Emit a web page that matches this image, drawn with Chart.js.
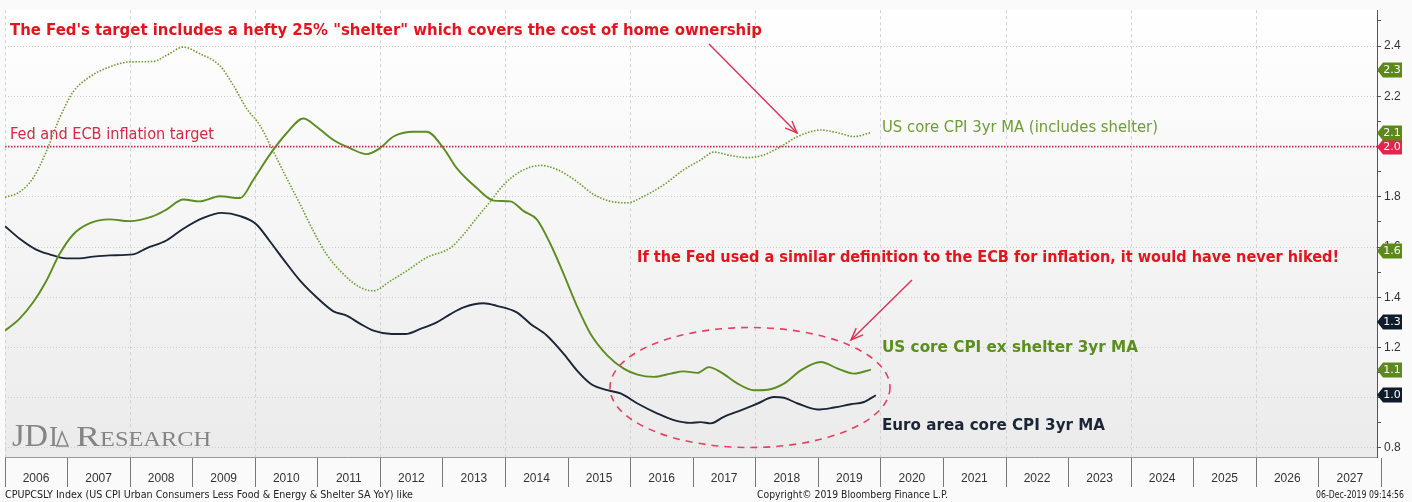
<!DOCTYPE html>
<html><head><meta charset="utf-8">
<script src="https://cdn.jsdelivr.net/npm/chart.js@4.4.0/dist/chart.umd.min.js"></script>
<style>html,body{margin:0;padding:0;background:#fafafa;}canvas{display:block;}</style>
</head><body>
<canvas id="c" width="1412" height="502"></canvas>
<script>
// ---------- DATA ----------
const euroYears = [2006.0,2006.23,2006.49,2006.71,2006.98,2007.19,2007.41,2007.67,2008.05,2008.26,2008.58,2008.85,2009.17,2009.46,2009.76,2010.02,2010.23,2010.45,2010.72,2011.01,2011.25,2011.46,2011.68,2011.89,2012.18,2012.40,2012.64,2012.90,2013.12,2013.33,2013.65,2013.86,2014.18,2014.40,2014.66,2014.93,2015.14,2015.36,2015.63,2015.84,2016.11,2016.43,2016.69,2016.96,2017.12,2017.28,2017.49,2017.76,2018.03,2018.29,2018.45,2018.67,2018.99,2019.25,2019.52,2019.73,2019.92];
const euroValues = [1.683,1.634,1.591,1.571,1.555,1.555,1.562,1.567,1.571,1.595,1.626,1.673,1.716,1.736,1.723,1.690,1.624,1.551,1.465,1.393,1.344,1.327,1.294,1.267,1.254,1.254,1.274,1.300,1.333,1.360,1.376,1.366,1.340,1.294,1.248,1.175,1.109,1.056,1.030,1.017,0.977,0.937,0.911,0.900,0.903,0.898,0.924,0.950,0.977,1.003,1.000,0.977,0.953,0.961,0.974,0.983,1.010];

const exShelterYears = [2006.0,2006.23,2006.45,2006.66,2006.87,2007.09,2007.35,2007.67,2007.99,2008.37,2008.58,2008.85,2009.11,2009.43,2009.76,2009.97,2010.23,2010.50,2010.77,2010.98,2011.25,2011.52,2011.78,2011.99,2012.21,2012.53,2012.74,2013.01,2013.22,2013.54,2013.81,2014.08,2014.29,2014.50,2014.72,2014.93,2015.14,2015.36,2015.63,2015.89,2016.11,2016.37,2016.64,2016.85,2017.07,2017.25,2017.44,2017.71,2017.97,2018.19,2018.45,2018.72,2019.04,2019.31,2019.57,2019.84];
const exShelterValues = [1.267,1.314,1.380,1.465,1.571,1.650,1.694,1.710,1.703,1.723,1.749,1.789,1.782,1.802,1.795,1.868,1.967,2.053,2.112,2.079,2.026,1.993,1.970,1.993,2.040,2.059,2.059,1.993,1.914,1.835,1.785,1.782,1.743,1.710,1.611,1.492,1.366,1.254,1.168,1.116,1.092,1.083,1.096,1.105,1.099,1.122,1.102,1.056,1.030,1.032,1.056,1.109,1.142,1.116,1.096,1.112];

const coreYears = [2006.0,2006.23,2006.45,2006.66,2006.87,2007.09,2007.35,2007.67,2007.99,2008.37,2008.58,2008.85,2009.11,2009.43,2009.65,2009.86,2010.07,2010.29,2010.50,2010.72,2010.93,2011.14,2011.41,2011.68,2011.89,2012.16,2012.42,2012.74,2013.12,2013.33,2013.54,2013.76,2013.97,2014.24,2014.56,2014.83,2015.14,2015.41,2015.68,2015.95,2016.21,2016.53,2016.85,2017.12,2017.33,2017.60,2017.87,2018.13,2018.40,2018.67,2019.04,2019.31,2019.57,2019.83];
const coreValues = [1.798,1.819,1.875,1.980,2.112,2.218,2.277,2.317,2.337,2.339,2.363,2.396,2.370,2.323,2.244,2.152,2.086,1.980,1.875,1.769,1.663,1.571,1.492,1.439,1.426,1.465,1.505,1.558,1.597,1.650,1.716,1.782,1.848,1.901,1.925,1.908,1.861,1.809,1.782,1.776,1.802,1.848,1.908,1.947,1.978,1.964,1.956,1.967,2.000,2.040,2.066,2.055,2.040,2.055];

const targetValue = 2.0;
const extraTagValues = [2.305, 1.584, 1.30];
const extraTagColors = ['green', 'green', 'navy'];

const yearTicks = [2006,2007,2008,2009,2010,2011,2012,2013,2014,2015,2016,2017,2018,2019,2020,2021,2022,2023,2024,2025,2026,2027,2028];
const yTickValues = [0.8,0.9,1.0,1.1,1.2,1.3,1.4,1.5,1.6,1.7,1.8,1.9,2.0,2.1,2.2,2.3,2.4,2.5];

// ---------- STYLE ----------
const COL = {green:'#5b8d1f', greenDot:'#6a9a2c', greenText:'#6f9d35', navy:'#1b2536', navyTag:'#0f1c2c',
  red:'#e5141c', redSoft:'#d9283f', target:'#d42a4f', ellipse:'#e6405f', grid:'#cfcfcf', greenTag:'#5b8a1a', redTag:'#e8244a'};

const pts = (xs, ys) => xs.map((x, i) => ({x, y: ys[i]}));
const isMajorY = v => Math.round(v * 10) % 2 === 0;

function fitText(ctx, text, x, y, w, font, color) {
  ctx.save();
  ctx.font = font;
  const m = ctx.measureText(text).width;
  ctx.translate(x, y);
  ctx.scale(w / m, 1);
  ctx.fillStyle = color;
  ctx.textBaseline = 'alphabetic';
  ctx.textAlign = 'left';
  ctx.fillText(text, 0, 0);
  ctx.restore();
}
function arrow(ctx, x1, y1, x2, y2, color) {
  ctx.save();
  ctx.strokeStyle = color; ctx.lineWidth = 1.4;
  ctx.beginPath(); ctx.moveTo(x1, y1); ctx.lineTo(x2, y2); ctx.stroke();
  const a = Math.atan2(y2 - y1, x2 - x1), L = 13, W = 0.38;
  ctx.beginPath();
  ctx.moveTo(x2 - L * Math.cos(a - W), y2 - L * Math.sin(a - W));
  ctx.lineTo(x2, y2);
  ctx.lineTo(x2 - L * Math.cos(a + W), y2 - L * Math.sin(a + W));
  ctx.stroke();
  ctx.restore();
}

const bgPlugin = {
  id: 'bg',
  beforeDraw(chart) {
    const {ctx, chartArea: a} = chart;
    ctx.save();
    ctx.fillStyle = '#fafafa'; ctx.fillRect(0, 0, chart.width, chart.height);
    const g = ctx.createLinearGradient(0, a.top, 0, a.bottom);
    g.addColorStop(0, '#ffffff'); g.addColorStop(1, '#ebebeb');
    ctx.fillStyle = g; ctx.fillRect(a.left, a.top, a.right - a.left, a.bottom - a.top);
    ctx.restore();
  },
  beforeDatasetsDraw(chart) {
    const ctx = chart.ctx;
    ctx.save();
    const grey = '#858585';
    fitText(ctx, 'JD', 12, 446, 36, '32px "Liberation Serif"', grey);
    fitText(ctx, 'I', 49, 446, 9, '30px "Liberation Serif"', grey);
    ctx.strokeStyle = grey; ctx.lineWidth = 1.5;
    ctx.beginPath(); ctx.moveTo(57, 446); ctx.lineTo(62, 432); ctx.lineTo(68, 446); ctx.closePath(); ctx.stroke();
    fitText(ctx, 'R', 76, 446, 24, '30px "Liberation Serif"', grey);
    fitText(ctx, 'ESEARCH', 100, 446, 111, '22px "Liberation Serif"', grey);
    ctx.restore();
  },
  afterDatasetsDraw(chart) {
    const ctx = chart.ctx;
    fitText(ctx, 'The Fed\'s target includes a hefty 25% "shelter" which covers the cost of home ownership', 10, 35, 752, 'bold 15px "DejaVu Sans"', COL.red);
    fitText(ctx, 'Fed and ECB inflation target', 10, 139, 204, '15px "DejaVu Sans"', COL.redSoft);
    fitText(ctx, 'US core CPI 3yr MA (includes shelter)', 882, 132, 276, '15px "DejaVu Sans"', COL.greenText);
    fitText(ctx, 'If the Fed used a similar definition to the ECB for inflation, it would have never hiked!', 637, 262, 702, 'bold 15px "DejaVu Sans"', COL.red);
    fitText(ctx, 'US core CPI ex shelter 3yr MA', 882, 352, 256, 'bold 15px "DejaVu Sans"', COL.green);
    fitText(ctx, 'Euro area core CPI 3yr MA', 882, 430, 223, 'bold 15px "DejaVu Sans"', COL.navy);
    arrow(ctx, 709, 44, 797, 133, '#e0304f');
    arrow(ctx, 912, 280, 851, 340, '#e0304f');
    ctx.save();
    ctx.strokeStyle = COL.ellipse; ctx.lineWidth = 1.6; ctx.setLineDash([7, 6]);
    ctx.beginPath(); ctx.ellipse(750, 387.5, 140, 60, 0, 0, Math.PI * 2); ctx.stroke();
    ctx.restore();
  },
  afterDraw(chart) {
    const ctx = chart.ctx, y = chart.scales.y, x0 = chart.chartArea.right;
    const colorOf = {green: COL.greenTag, navy: COL.navyTag, red: COL.redTag};
    const tags = [];
    extraTagValues.forEach((v, i) => tags.push({v, c: colorOf[extraTagColors[i]]}));
    tags.push({v: targetValue, c: COL.redTag});
    tags.push({v: coreValues[coreValues.length - 1], c: COL.greenTag});
    tags.push({v: exShelterValues[exShelterValues.length - 1], c: COL.greenTag});
    tags.push({v: euroValues[euroValues.length - 1], c: COL.navyTag});
    ctx.save();
    tags.forEach(t => {
      const py = Math.round(y.getPixelForValue(t.v));
      ctx.fillStyle = t.c;
      ctx.beginPath();
      ctx.moveTo(x0, py); ctx.lineTo(x0 + 6, py - 7.5); ctx.lineTo(x0 + 25, py - 7.5);
      ctx.lineTo(x0 + 25, py + 7.5); ctx.lineTo(x0 + 6, py + 7.5); ctx.closePath(); ctx.fill();
      ctx.fillStyle = '#ffffff'; ctx.font = '11px "DejaVu Sans"';
      ctx.textAlign = 'center'; ctx.textBaseline = 'middle';
      ctx.fillText(t.v.toFixed(1), x0 + 15, py + 0.5);
    });
    ctx.restore();
    fitText(ctx, 'CPUPCSLY Index (US CPI Urban Consumers Less Food & Energy & Shelter SA YoY) like', 5, 498, 408, '10px "DejaVu Sans"', '#222');
    fitText(ctx, 'Copyright\u00A9 2019 Bloomberg Finance L.P.', 757, 498, 191, '10px "DejaVu Sans"', '#222');
    fitText(ctx, '06-Dec-2019 09:14:56', 1316, 498, 88, '10.5px "DejaVu Sans"', '#222');
  }
};

new Chart(document.getElementById('c'), {
  type: 'line',
  data: {
    datasets: [
      {label: 'Fed and ECB inflation target', data: [{x: yearTicks[0], y: targetValue}, {x: yearTicks[yearTicks.length - 1], y: targetValue}],
        borderColor: COL.target, borderWidth: 1.6, borderDash: [1.5, 1.5], pointRadius: 0, tension: 0},
      {label: 'US core CPI 3yr MA (includes shelter)', data: pts(coreYears, coreValues),
        borderColor: COL.greenDot, borderWidth: 1.6, borderDash: [1.5, 1.6], pointRadius: 0, cubicInterpolationMode: 'monotone'},
      {label: 'US core CPI ex shelter 3yr MA', data: pts(exShelterYears, exShelterValues),
        borderColor: COL.green, borderWidth: 1.9, pointRadius: 0, cubicInterpolationMode: 'monotone'},
      {label: 'Euro area core CPI 3yr MA', data: pts(euroYears, euroValues),
        borderColor: COL.navy, borderWidth: 1.9, pointRadius: 0, cubicInterpolationMode: 'monotone'}
    ]
  },
  options: {
    responsive: false, animation: false,
    layout: {padding: {left: 5, top: 8, right: 0, bottom: 0}},
    plugins: {legend: {display: false}, tooltip: {enabled: false}},
    scales: {
      x: {
        type: 'linear', min: 2006, max: 2027.93,
        afterBuildTicks: s => { s.ticks = yearTicks.map(v => ({value: v})); },
        afterFit: s => { s.height = 45; },
        ticks: {autoSkip: false, maxRotation: 0, labelOffset: 31, padding: -16, color: '#333',
          font: {family: 'Liberation Sans', size: 12},
          callback: v => (v < 2028 ? String(v) : '')},
        grid: {
          color: c => (c.tick && c.tick.value % 2 === 0 && c.tick.value < 2028) ? '#d2d2d2' : 'rgba(0,0,0,0)',
          lineWidth: 1, drawTicks: true, tickLength: 30, tickColor: '#777', tickWidth: 1
        },
        border: {display: true, color: '#9a9a9a', dash: [3, 3]}
      },
      y: {
        type: 'linear', position: 'right', min: 0.764, max: 2.543,
        afterBuildTicks: s => { s.ticks = yTickValues.map(v => ({value: v})); },
        afterFit: s => { s.width = 35; },
        ticks: {autoSkip: false, padding: 3, color: '#333', font: {family: 'Liberation Sans', size: 12},
          callback: v => (isMajorY(v) ? v.toFixed(1) : '')},
        grid: {
          color: c => (c.tick && isMajorY(c.tick.value)) ? '#cdcdcd' : 'rgba(0,0,0,0)',
          drawTicks: true, tickLength: 4, tickColor: '#555'
        },
        border: {display: true, color: '#555', dash: [1, 2]}
      }
    }
  },
  plugins: [bgPlugin]
});
</script>
</body></html>
